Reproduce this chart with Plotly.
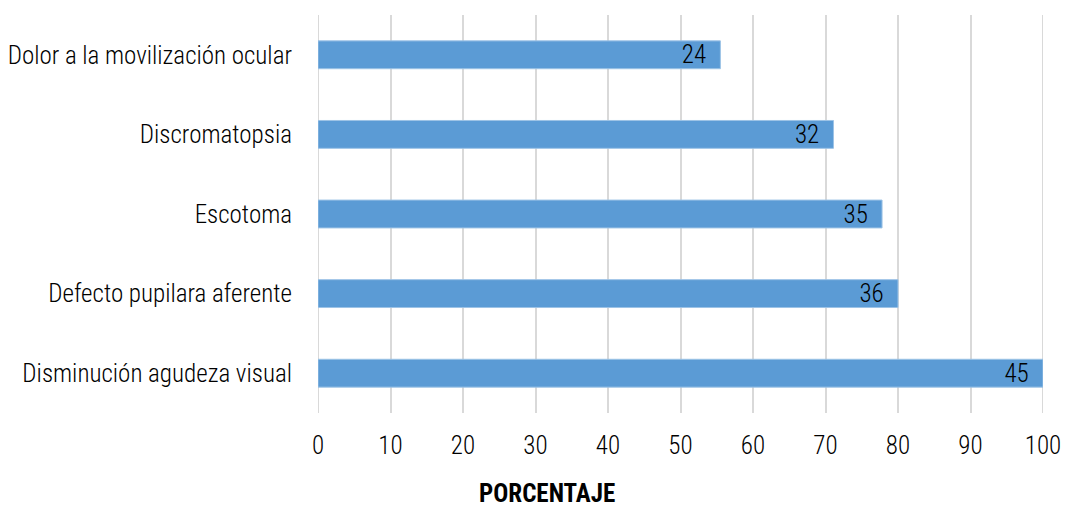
import plotly.graph_objects as go

categories = ["Disminución agudeza visual", "Defecto pupilara aferente", "Escotoma",
              "Discromatopsia", "Dolor a la movilización ocular"]
percent = [100, 80, 77.8, 71.1, 55.5]
counts = [45, 36, 35, 32, 24]
x_ticks = [0, 10, 20, 30, 40, 50, 60, 70, 80, 90, 100]

FONT = "Roboto Condensed, Liberation Sans, Arial, sans-serif"

fig = go.Figure(go.Bar(
    y=categories, x=percent, orientation="h",
    marker=dict(color="#5B9BD5", line=dict(color="#9DC3E6", width=1)),
    text=[str(c) for c in counts], texttemplate="%{text}\u00a0\u00a0",
    textposition="inside", insidetextanchor="end", textangle=0,
    textfont=dict(color="black", size=25, family=FONT, weight=300),
    cliponaxis=False, hoverinfo="skip",
))

fig.update_layout(
    width=1065, height=508,
    margin=dict(l=318, r=22, t=15, b=95, autoexpand=False),
    paper_bgcolor="white", plot_bgcolor="white",
    bargap=0.65, showlegend=False,
    font=dict(family=FONT, color="black", size=24, weight=300),
    uniformtext=dict(minsize=25, mode="show"),
)
fig.update_xaxes(
    range=[0, 100], tickvals=x_ticks, ticktext=[str(v) for v in x_ticks],
    showgrid=True, gridcolor="#D9D9D9", gridwidth=2, automargin=False,
    zeroline=False, showline=False, ticks="outside", ticklen=10, tickcolor="white",
    tickfont=dict(size=25, family=FONT, color="black", weight=300),
)
fig.update_yaxes(
    showgrid=False, showline=False, zeroline=False, ticks="outside", ticklen=20,
    tickcolor="white", tickfont=dict(size=25, family=FONT, color="black", weight=300),
    automargin=False,
)
fig.add_shape(type="line", xref="x", yref="paper", x0=0, x1=0, y0=0, y1=1,
              line=dict(color="#D9D9D9", width=2), layer="below")
fig.add_shape(type="line", xref="x", yref="paper", x0=100, x1=100, y0=0, y1=1,
              line=dict(color="#D9D9D9", width=2), layer="below")
fig.add_annotation(text="<b>PORCENTAJE</b>", xref="paper", yref="paper",
                   x=(547 - 318) / 725, y=-80 / 398, xanchor="center", yanchor="middle",
                   showarrow=False, font=dict(size=25, family=FONT, color="black"))

fig.write_html("out.html")
